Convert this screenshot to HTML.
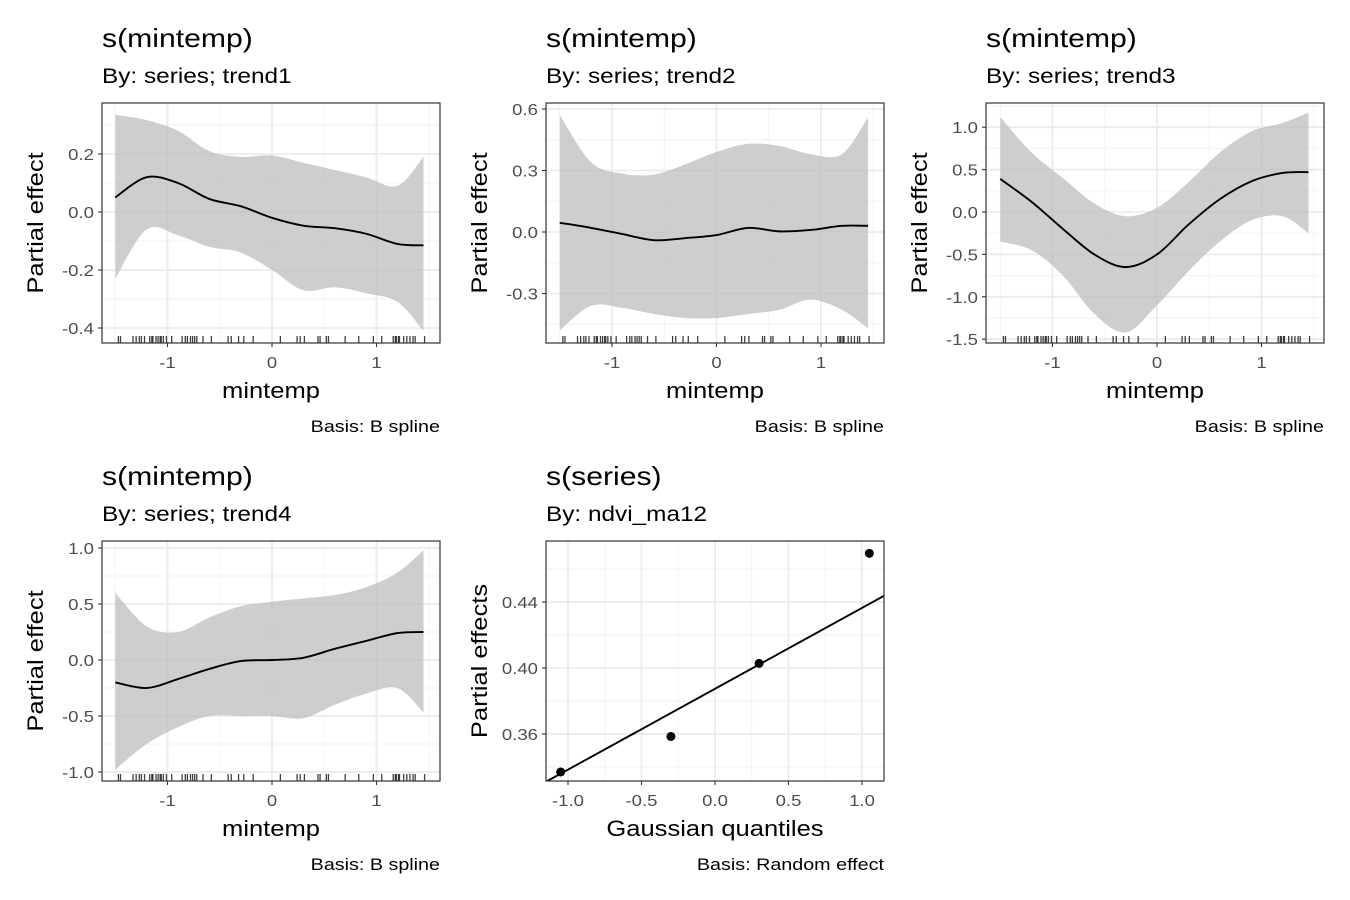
<!DOCTYPE html>
<html><head><meta charset="utf-8"><style>
body{margin:0;background:#fff}
svg{display:block;font-family:"Liberation Sans",sans-serif}
</style></head><body>
<svg id="c" width="1350" height="900" xmlns="http://www.w3.org/2000/svg"></svg>
<script>
const gridX=[-1.5,-1.2,-0.9,-0.6,-0.3,0,0.3,0.6,0.9,1.2,1.45];
const fit1=[0.05,0.12,0.1,0.045,0.02,-0.02,-0.047,-0.056,-0.075,-0.11,-0.115];
const hi1=[0.335,0.317,0.28,0.21,0.19,0.195,0.17,0.145,0.12,0.09,0.19];
const lo1=[-0.23,-0.06,-0.08,-0.12,-0.14,-0.2,-0.27,-0.26,-0.28,-0.31,-0.41];
const fit2=[0.045,0.02,-0.01,-0.04,-0.03,-0.015,0.02,0.003,0.01,0.03,0.03];
const hi2=[0.57,0.34,0.285,0.28,0.33,0.39,0.43,0.42,0.38,0.38,0.56];
const lo2=[-0.48,-0.36,-0.37,-0.4,-0.42,-0.42,-0.4,-0.38,-0.33,-0.38,-0.47];
const fit3=[0.39,0.12,-0.2,-0.5,-0.65,-0.5,-0.15,0.15,0.36,0.46,0.47];
const hi3=[1.12,0.7,0.4,0.1,-0.05,0.05,0.35,0.7,0.95,1.05,1.17];
const lo3=[-0.35,-0.45,-0.75,-1.2,-1.42,-1.1,-0.7,-0.35,-0.1,-0.05,-0.25];
const fit4=[-0.2,-0.25,-0.17,-0.08,-0.01,0,0.02,0.1,0.17,0.24,0.25];
const hi4=[0.6,0.3,0.25,0.38,0.48,0.52,0.55,0.58,0.65,0.78,0.98];
const lo4=[-0.98,-0.75,-0.6,-0.5,-0.5,-0.5,-0.52,-0.4,-0.3,-0.25,-0.47];
const rug=[-1.47,-1.45,-1.33,-1.30,-1.27,-1.25,-1.22,-1.17,-1.15,-1.14,-1.11,-1.09,-1.07,-1.06,-1.04,-1.01,-0.96,-0.86,-0.83,-0.81,-0.78,-0.76,-0.74,-0.72,-0.66,-0.58,-0.42,-0.39,-0.32,-0.27,-0.18,0.08,0.24,0.27,0.31,0.44,0.46,0.52,0.54,0.70,0.83,0.97,1.05,1.16,1.18,1.19,1.21,1.22,1.26,1.29,1.32,1.35,1.37,1.46];
const reQ=[-1.05,-0.3,0.3,1.05];
const reV=[0.337,0.3585,0.4028,0.4695];
const reInt=0.3874, reSlope=0.049;
const xTicksS=[-1,0,1];
const yTicks1=[0.2,0,-0.2,-0.4], yTicks2=[0.6,0.3,0,-0.3], yTicks3=[1,0.5,0,-0.5,-1,-1.5], yTicks4=[1,0.5,0,-0.5,-1];
const yTicks5=[0.44,0.40,0.36], xTicks5=[-1,-0.5,0,0.5,1];

const svg=document.getElementById('c');
const NS='http://www.w3.org/2000/svg';
function el(t,a,p){const e=document.createElementNS(NS,t);for(const k in a)e.setAttribute(k,a[k]);(p||svg).appendChild(e);return e;}
function txt(s,a,p){const e=el('text',a,p);e.textContent=s;const w=e.getComputedTextLength();if(w>0){e.setAttribute('textLength',(w*1.16).toFixed(1));e.setAttribute('lengthAdjust','spacingAndGlyphs');}return e;}
function smooth(pts){let d='M'+pts[0][0]+','+pts[0][1];for(let i=0;i<pts.length-1;i++){const p0=pts[i-1]||pts[i],p1=pts[i],p2=pts[i+1],p3=pts[i+2]||p2;d+=' C'+(p1[0]+(p2[0]-p0[0])/6)+','+(p1[1]+(p2[1]-p0[1])/6)+' '+(p2[0]-(p3[0]-p1[0])/6)+','+(p2[1]-(p3[1]-p1[1])/6)+' '+p2[0]+','+p2[1];}return d;}

function panel(o){
  const g=el('g',{});
  
  
  const L=o.x,T=o.y,W=338,H=240;
  const sx=v=>o.x0+(v)*o.kx, sy=v=>o.y0-(v)*o.ky;
  const t=txt(o.title,{x:L,y:T-56,'font-size':26,fill:'#000'},g);
  
  const st=txt(o.sub,{x:L,y:T-20,'font-size':21,fill:'#000'},g);
  
  el('rect',{x:L,y:T,width:W,height:H,fill:'#fff'},g);
  const clip='cl'+o.name;const cp=el('clipPath',{id:clip},g);el('rect',{x:L,y:T,width:W,height:H},cp);
  const inner=el('g',{'clip-path':'url(#'+clip+')'},g);
  const xs=o.xt, ys=o.yt;
  const xst=xs[1]-xs[0], yst=ys[1]-ys[0];
  for(let i=-1;i<=xs.length;i++){const v=xs[0]+(i+0.5)*xst;el('line',{x1:sx(v),x2:sx(v),y1:T,y2:T+H,stroke:'#f2f2f2','stroke-width':0.9},inner);}
  for(let i=-1;i<=ys.length;i++){const v=ys[0]+(i+0.5)*yst;el('line',{x1:L,x2:L+W,y1:sy(v),y2:sy(v),stroke:'#f2f2f2','stroke-width':0.9},inner);}
  xs.forEach(v=>el('line',{x1:sx(v),x2:sx(v),y1:T,y2:T+H,stroke:'#ebebeb','stroke-width':1.8},inner));
  ys.forEach(v=>el('line',{x1:L,x2:L+W,y1:sy(v),y2:sy(v),stroke:'#ebebeb','stroke-width':1.8},inner));
  if(o.fit){
    const up=gridX.map((x,i)=>[sx(x),sy(o.hi[i])]), dn=gridX.map((x,i)=>[sx(x),sy(o.lo[i])]).reverse();
    const band=el('path',{d:smooth(up)+' L'+smooth(dn).slice(1)+' Z',fill:'#bebebe','fill-opacity':0.75},inner);
    
    const ln=el('path',{d:smooth(gridX.map((x,i)=>[sx(x),sy(o.fit[i])])),fill:'none',stroke:'#000','stroke-width':1.9},inner);
    
    rug.forEach(v=>{const r=el('line',{x1:sx(v),x2:sx(v),y1:T+H-7,y2:T+H,stroke:'#000','stroke-opacity':0.75,'stroke-width':1.3},inner);
      });
  } else {
    const a=-1.2,b=1.2;
    const ln=el('line',{x1:sx(a),y1:sy(reInt+reSlope*a),x2:sx(b),y2:sy(reInt+reSlope*b),stroke:'#000','stroke-width':1.9},inner);
    
    reQ.forEach((q,i)=>{const c=el('circle',{cx:sx(q),cy:sy(reV[i]),r:4.5,fill:'#000'},inner);
      });
  }
  el('rect',{x:L,y:T,width:W,height:H,fill:'none',stroke:'#333','stroke-width':1.2},g);
  xs.forEach(v=>{el('line',{x1:sx(v),x2:sx(v),y1:T+H,y2:T+H+4,stroke:'#333','stroke-width':1.1},g);
    const tl=txt(o.xf(v),{x:sx(v),y:T+H+25,'font-size':16,fill:'#4d4d4d','text-anchor':'middle'},g);
    });
  ys.forEach(v=>{el('line',{x1:L-4,x2:L,y1:sy(v),y2:sy(v),stroke:'#333','stroke-width':1.1},g);
    const tl=txt(o.yf(v),{x:L-8,y:sy(v)+6,'font-size':16,fill:'#4d4d4d','text-anchor':'end'},g);
    });
  const xt=txt(o.xl,{x:L+W/2,y:T+H+55,'font-size':22,fill:'#000','text-anchor':'middle'},g);
  
  const yt=txt(o.yl,{x:0,y:0,'font-size':22,fill:'#000','text-anchor':'middle',transform:'translate('+(L-59)+','+(T+H/2)+') rotate(-90)'},g);
  
  const cap=txt(o.cap,{x:L+W,y:T+H+89,'font-size':17,fill:'#000','text-anchor':'end'},g);
  
}
const f0=v=>String(v), f1=v=>v.toFixed(1), f2=v=>v.toFixed(2);
panel({name:'panel-trend1',x:102,y:103,title:'s(mintemp)',sub:'By: series; trend1',x0:272,kx:104.5,y0:212,ky:290,xt:xTicksS,yt:yTicks1,xf:f0,yf:f1,fit:fit1,hi:hi1,lo:lo1,xl:'mintemp',yl:'Partial effect',cap:'Basis: B spline'});
panel({name:'panel-trend2',x:546,y:103,title:'s(mintemp)',sub:'By: series; trend2',x0:716.5,kx:104.5,y0:232,ky:205,xt:xTicksS,yt:yTicks2,xf:f0,yf:f1,fit:fit2,hi:hi2,lo:lo2,xl:'mintemp',yl:'Partial effect',cap:'Basis: B spline'});
panel({name:'panel-trend3',x:986,y:103,title:'s(mintemp)',sub:'By: series; trend3',x0:1157,kx:104.5,y0:212,ky:84.8,xt:xTicksS,yt:yTicks3,xf:f0,yf:f1,fit:fit3,hi:hi3,lo:lo3,xl:'mintemp',yl:'Partial effect',cap:'Basis: B spline'});
panel({name:'panel-trend4',x:102,y:541,title:'s(mintemp)',sub:'By: series; trend4',x0:272,kx:104.5,y0:660,ky:112,xt:xTicksS,yt:yTicks4,xf:f0,yf:f1,fit:fit4,hi:hi4,lo:lo4,xl:'mintemp',yl:'Partial effect',cap:'Basis: B spline'});
panel({name:'panel-series',x:546,y:541,title:'s(series)',sub:'By: ndvi_ma12',x0:715,kx:147,y0:668+0.40*1650,ky:1650,xt:xTicks5,yt:yTicks5,xf:f1,yf:f2,xl:'Gaussian quantiles',yl:'Partial effects',cap:'Basis: Random effect'});
</script>
</body></html>
